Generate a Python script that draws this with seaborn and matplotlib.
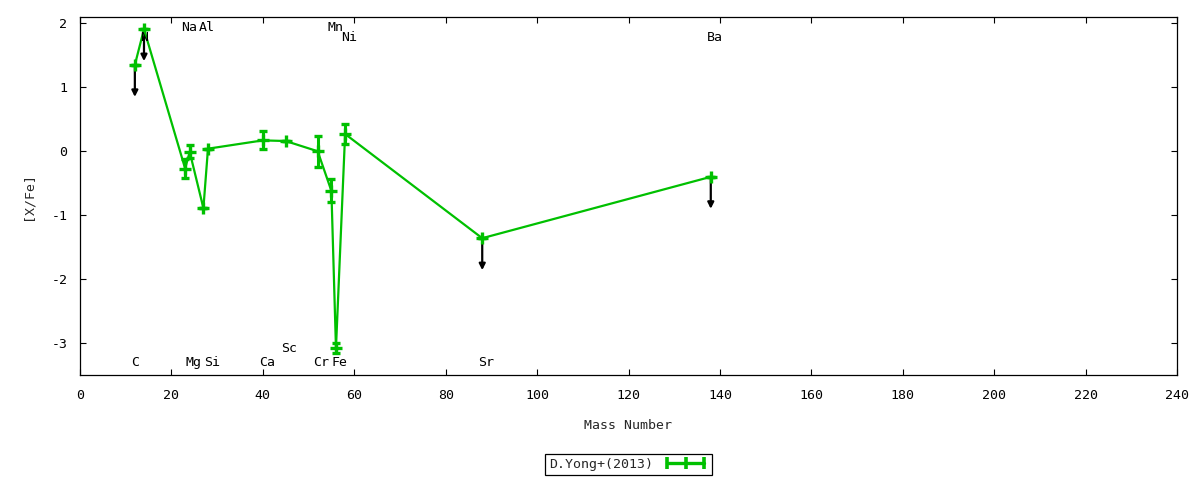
import matplotlib
matplotlib.use("Agg")
import matplotlib.pyplot as plt
from matplotlib.lines import Line2D

import seaborn as sns

# abundances, ordered by mass number
elements = ["C", "N", "Na", "Mg", "Al", "Si", "Ca", "Sc", "Cr", "Mn", "Fe", "Ni", "Sr", "Ba"]
mass = [12, 14, 23, 24, 27, 28, 40, 45, 52, 55, 56, 58, 88, 138]
xfe = [1.35, 1.91, -0.27, -0.01, -0.89, 0.04, 0.17, 0.16, 0.00, -0.62, -3.08, 0.27, -1.36, -0.40]
xfe_err = [0, 0, 0.15, 0.10, 0, 0, 0.14, 0, 0.24, 0.18, 0.08, 0.155, 0, 0]
upper_limit = [True, True, False, False, False, False, False, False, False, False, False, False, True, True]
label_y = [-3.31, 1.78, 1.94, -3.31, 1.94, -3.31, -3.31, -3.09, -3.31, 1.94, -3.31, 1.78, -3.31, 1.78]

x_ticks = list(range(0, 241, 20))
y_ticks = [-3, -2, -1, 0, 1, 2]

green = "#00c000"

sns.set_theme(style="ticks")
plt.rcParams["font.family"] = ["DejaVu Sans Mono", "DejaVu Sans"]
plt.rcParams["font.size"] = 9.5
plt.rcParams["axes.unicode_minus"] = False

fig = plt.figure(figsize=(12, 4.8), dpi=100)
ax = fig.add_axes([80 / 1200, 1 - 375 / 480, 1097 / 1200, 358 / 480])

# upper limits: black arrows pointing down
for m, v, lim in zip(mass, xfe, upper_limit):
    if lim:
        ax.annotate("", xy=(m, v - 0.5), xytext=(m, v),
                    arrowprops=dict(arrowstyle="-|>", color="black", lw=1.6,
                                    mutation_scale=9, shrinkA=0, shrinkB=0),
                    zorder=2)

sns.lineplot(x=mass, y=xfe, sort=False, color=green, linewidth=1.6,
             marker="+", markersize=8, markeredgewidth=2.4, markeredgecolor=green,
             legend=False, ax=ax, zorder=3)
ax.errorbar(mass, xfe, yerr=xfe_err, fmt="none", ecolor=green, elinewidth=2.2,
            capsize=3, capthick=2.4, zorder=3)

for name, m, ly in zip(elements, mass, label_y):
    ax.annotate(name, (m, ly), xytext=(-3, 0), textcoords="offset points",
                ha="left", va="center", fontsize=9.5, color="black")

ax.set_xlim(0, 240)
ax.set_ylim(-3.5, 2.1)
ax.set_xticks(x_ticks)
ax.set_yticks(y_ticks)
ax.tick_params(direction="in", top=True, right=True, length=4.5, width=0.8,
               labelsize=9.5, colors="black")
ax.tick_params(axis="x", pad=10)
ax.tick_params(axis="y", pad=9)
for sp in ax.spines.values():
    sp.set_visible(True)
    sp.set_color("black")
    sp.set_linewidth(0.9)

ax.set_xlabel("Mass Number", fontsize=9.5, labelpad=12)
ax.set_ylabel("[X/Fe]", fontsize=9.5, labelpad=12)

handle = Line2D([0, 1], [0, 0], color=green, linewidth=2.4, marker="|",
                markersize=8, markeredgewidth=2.6)
leg = ax.legend([handle], ["D.Yong+(2013)"], loc="center", bbox_to_anchor=(0.5, -0.25),
                markerfirst=False, numpoints=3, handlelength=3.4, handletextpad=0.8,
                fancybox=False, framealpha=1, edgecolor="black", fontsize=9.5,
                borderpad=0.3, borderaxespad=0)
leg.get_frame().set_linewidth(0.9)

fig.savefig("out.png", dpi=100)
plt.close(fig)
